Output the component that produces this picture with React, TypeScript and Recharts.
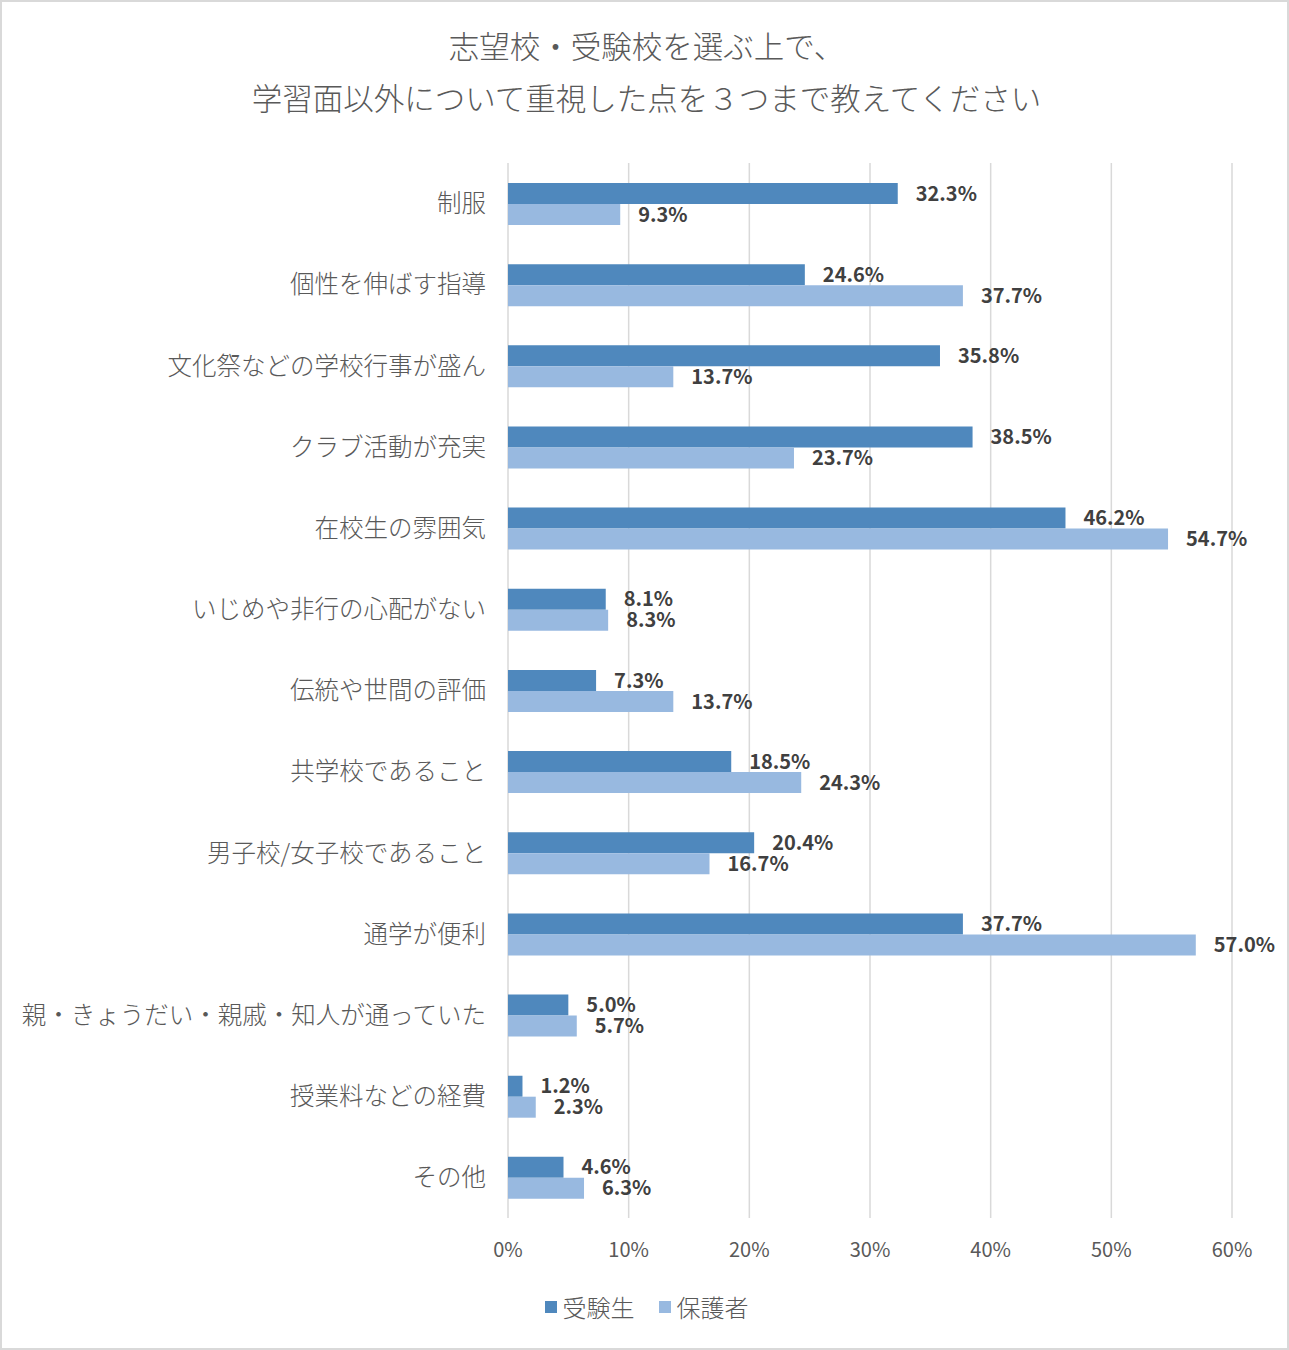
import { BarChart, Bar, XAxis, YAxis, CartesianGrid, LabelList } from 'recharts';

const categories = [
  '制服',
  '個性を伸ばす指導',
  '文化祭などの学校行事が盛ん',
  'クラブ活動が充実',
  '在校生の雰囲気',
  'いじめや非行の心配がない',
  '伝統や世間の評価',
  '共学校であること',
  '男子校/女子校であること',
  '通学が便利',
  '親・きょうだい・親戚・知人が通っていた',
  '授業料などの経費',
  'その他'
];
const students = [32.3, 24.6, 35.8, 38.5, 46.2, 8.1, 7.3, 18.5, 20.4, 37.7, 5.0, 1.2, 4.6];
const parents = [9.3, 37.7, 13.7, 23.7, 54.7, 8.3, 13.7, 24.3, 16.7, 57.0, 5.7, 2.3, 6.3];
const xTicks = [0, 10, 20, 30, 40, 50, 60];
const titleLines = ['志望校・受験校を選ぶ上で、', '学習面以外について重視した点を３つまで教えてください'];

const DARK = '#4f88bd';
const LIGHT = '#98b9e0';
const FONT = '"Noto Sans CJK JP", "Noto Sans", sans-serif';

const data = categories.map((name, i) => ({
  name,
  students: students[i],
  parents: parents[i]
}));

const pct = (v: any) => `${Number(v).toFixed(1)}%`;

export default function App() {
  return (
    <div
      style={{
        position: 'absolute',
        left: 0,
        top: 0,
        width: 1289,
        height: 1350,
        boxSizing: 'border-box',
        border: '2px solid #d9d9d9',
        background: '#fff',
        fontFamily: FONT
      }}
    >
      <div
        style={{
          position: 'absolute',
          left: 0,
          top: 17,
          width: 1289,
          textAlign: 'center',
          color: '#595959',
          fontSize: 30.5,
          fontWeight: 300,
          lineHeight: '52px'
        }}
      >
        {titleLines.map(t => (
          <div key={t}>{t}</div>
        ))}
      </div>

      <div style={{ position: 'absolute', left: -2, top: -2 }}>
        <BarChart
          width={1289}
          height={1350}
          data={data}
          layout="vertical"
          margin={{ top: 163, right: 57, left: 0, bottom: 72 }}
          barGap={0}
          style={{ fontFamily: FONT }}
        >
          <CartesianGrid horizontal={false} stroke="#d9d9d9" strokeWidth={1.5} />
          <XAxis
            type="number"
            domain={[0, 60]}
            ticks={xTicks}
            tickFormatter={(v: number) => `${v}%`}
            axisLine={false}
            tickLine={false}
            tickSize={0}
            tickMargin={25}
            height={60}
            tick={{ fill: '#595959', fontSize: 20 }}
          />
          <YAxis
            type="category"
            dataKey="name"
            width={508}
            interval={0}
            axisLine={false}
            tickLine={false}
            tickSize={0}
            tickMargin={22}
            tick={{ fill: '#595959', fontSize: 24.5, fontWeight: 300 }}
          />
          <Bar dataKey="students" name="受験生" fill={DARK} barSize={21} isAnimationActive={false}>
            <LabelList
              dataKey="students"
              position="right"
              offset={18}
              formatter={pct}
              fill="#404040"
              fontSize={20}
              fontWeight="bold"
            />
          </Bar>
          <Bar dataKey="parents" name="保護者" fill={LIGHT} barSize={21} isAnimationActive={false}>
            <LabelList
              dataKey="parents"
              position="right"
              offset={18}
              formatter={pct}
              fill="#404040"
              fontSize={20}
              fontWeight="bold"
            />
          </Bar>
        </BarChart>
      </div>

      <div
        style={{
          position: 'absolute',
          left: 0,
          top: 1287,
          width: 1289,
          display: 'flex',
          justifyContent: 'center',
          gap: 24,
          color: '#595959',
          fontSize: 24,
          fontWeight: 300
        }}
      >
        {[
          { label: '受験生', color: DARK },
          { label: '保護者', color: LIGHT }
        ].map(item => (
          <div key={item.label} style={{ display: 'flex', alignItems: 'center', gap: 6 }}>
            <span style={{ width: 12, height: 12, background: item.color, display: 'inline-block' }} />
            <span>{item.label}</span>
          </div>
        ))}
      </div>
    </div>
  );
}
